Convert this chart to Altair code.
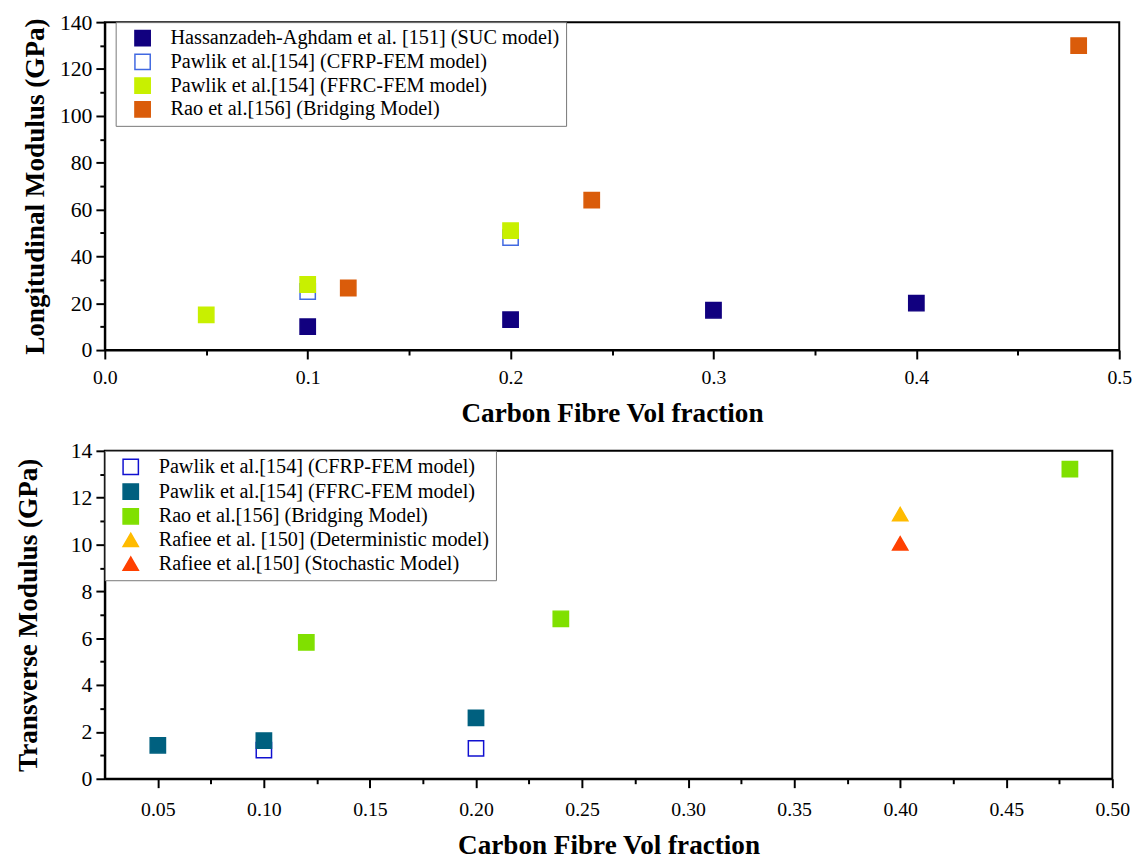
import altair as alt
import pandas as pd

FONT = "Liberation Serif"

# ---------------- Top panel data ----------------
top_series = [
    "Hassanzadeh-Aghdam et al. [151] (SUC model)",
    "Pawlik et al.[154] (CFRP-FEM model)",
    "Pawlik et al.[154] (FFRC-FEM model)",
    "Rao et al.[156] (Bridging Model)",
]
top_fill = ["#11007F", "white", "#C8F000", "#DA5C0A"]
top_stroke = ["#11007F", "#4169E1", "#C8F000", "#DA5C0A"]
top_shape = ["square", "square", "square", "square"]
top_size = [240, 240, 240, 240]

suc_x = [0.1, 0.2, 0.3, 0.4]
suc_y = [10, 13, 17, 20]
cfrp_top_x = [0.1, 0.2]
cfrp_top_y = [25, 48]
ffrc_top_x = [0.05, 0.1, 0.2]
ffrc_top_y = [15, 28, 51]
rao_top_x = [0.12, 0.24, 0.48]
rao_top_y = [26.5, 64, 130]

# ---------------- Bottom panel data ----------------
bot_series = [
    "Pawlik et al.[154] (CFRP-FEM model)",
    "Pawlik et al.[154] (FFRC-FEM model)",
    "Rao et al.[156] (Bridging Model)",
    "Rafiee et al. [150] (Deterministic model)",
    "Rafiee et al.[150] (Stochastic Model)",
]
bot_fill = ["white", "#00607F", "#80E000", "#FFBB00", "#FF4000"]
bot_stroke = ["#1010D0", "#00607F", "#80E000", "#FFBB00", "#FF4000"]
bot_shape = ["square", "square", "square", "triangle-up", "triangle-up"]
bot_size = [240, 240, 240, 440, 440]

cfrp_bot_x = [0.1, 0.2]
cfrp_bot_y = [1.22, 1.3]
ffrc_bot_x = [0.05, 0.1, 0.2]
ffrc_bot_y = [1.43, 1.63, 2.6]
rao_bot_x = [0.12, 0.24, 0.48]
rao_bot_y = [5.82, 6.83, 13.22]
det_x = [0.4]
det_y = [11.3]
sto_x = [0.4]
sto_y = [10.05]


def rows(name, xs, ys):
    return [{"series": name, "x": a, "y": b} for a, b in zip(xs, ys)]


top_df = pd.DataFrame(
    rows(top_series[1], cfrp_top_x, cfrp_top_y)
    + rows(top_series[0], suc_x, suc_y)
    + rows(top_series[2], ffrc_top_x, ffrc_top_y)
    + rows(top_series[3], rao_top_x, rao_top_y)
)
bot_df = pd.DataFrame(
    rows(bot_series[0], cfrp_bot_x, cfrp_bot_y)
    + rows(bot_series[1], ffrc_bot_x, ffrc_bot_y)
    + rows(bot_series[2], rao_bot_x, rao_bot_y)
    + rows(bot_series[3], det_x, det_y)
    + rows(bot_series[4], sto_x, sto_y)
)


def legend(x, y, sym_offset, label_offset, row_pad):
    return alt.Legend(
        title=None,
        orient="none",
        legendX=x,
        legendY=y,
        strokeColor="#777777",
        fillColor="white",
        padding=6,
        labelFont=FONT,
        labelFontSize=20.5,
        labelColor="black",
        labelLimit=600,
        labelOffset=label_offset,
        symbolOffset=sym_offset,
        rowPadding=row_pad,
        symbolStrokeWidth=1.5,
    )


def axis_common(**kw):
    base = dict(
        domainColor="black",
        domainWidth=2,
        tickColor="black",
        tickWidth=2,
        labelColor="black",
        labelFont=FONT,
        titleFont=FONT,
        titleFontSize=27.5,
        titleFontWeight="bold",
        titleColor="black",
        grid=False,
        labelFlush=False,
        labelOverlap=False,
    )
    base.update(kw)
    return alt.Axis(**base)


def panel(df, series, fill, stroke, shape, size, xdom, ydom, xaxis, yaxis, leg, w, h):
    return (
        alt.Chart(df)
        .mark_point(filled=False, opacity=1, strokeWidth=1.5)
        .encode(
            x=alt.X("x:Q", scale=alt.Scale(domain=xdom, nice=False, zero=False), axis=xaxis),
            y=alt.Y("y:Q", scale=alt.Scale(domain=ydom, nice=False), axis=yaxis),
            fill=alt.Fill("series:N", scale=alt.Scale(domain=series, range=fill), legend=leg),
            stroke=alt.Stroke("series:N", scale=alt.Scale(domain=series, range=stroke), legend=leg),
            shape=alt.Shape("series:N", scale=alt.Scale(domain=series, range=shape), legend=leg),
            size=alt.Size("series:N", scale=alt.Scale(domain=series, range=size), legend=leg),
        )
        .properties(width=w, height=h)
    )


top_x_vals = [round(i * 0.05, 3) for i in range(0, 11)]
top_y_vals = list(range(0, 141, 10))
bot_x_vals = [round(0.025 * i, 3) for i in range(2, 21)]
bot_y_vals = list(range(0, 15))

top = panel(
    top_df, top_series, top_fill, top_stroke, top_shape, top_size,
    [0, 0.5], [0, 140],
    axis_common(
        title="Carbon Fibre Vol fraction",
        values=top_x_vals,
        labelExpr="round(datum.value*20) % 2 == 0 ? format(datum.value, '.1f') : ''",
        tickSize={"condition": {"test": "round(datum.value*20) % 2 != 0", "value": 5}, "value": 9},
        labelFontSize=20,
        labelPadding=9,
        titlePadding=12,
    ),
    axis_common(
        title="Longitudinal Modulus (GPa)",
        values=top_y_vals,
        labelExpr="round(datum.value) % 20 == 0 ? datum.label : ''",
        tickSize={"condition": {"test": "round(datum.value) % 20 != 0", "value": 5}, "value": 9},
        labelFontSize=22,
        labelPadding=4,
        titlePadding=10.5,
    ),
    legend(11, 0, 11, 18, 2),
    1027, 332,
)

bot = panel(
    bot_df, bot_series, bot_fill, bot_stroke, bot_shape, bot_size,
    [0.025, 0.5], [0, 14],
    axis_common(
        title="Carbon Fibre Vol fraction",
        values=bot_x_vals,
        labelExpr="round(datum.value*40) % 2 == 0 ? format(datum.value, '.2f') : ''",
        tickSize={"condition": {"test": "round(datum.value*40) % 2 != 0", "value": 5}, "value": 9},
        labelFontSize=20,
        labelPadding=12,
        titlePadding=13,
    ),
    axis_common(
        title="Transverse Modulus (GPa)",
        values=bot_y_vals,
        labelExpr="round(datum.value) % 2 == 0 ? datum.label : ''",
        tickSize={"condition": {"test": "round(datum.value) % 2 != 0", "value": 5}, "value": 9},
        labelFontSize=22,
        labelPadding=4,
        titlePadding=28.5,
    ),
    legend(0, 0, 10, 18, 3),
    1020, 332,
)

chart = (
    alt.concat(top, bot, columns=1, spacing=11, align="none")
    .resolve_scale(fill="independent", stroke="independent", shape="independent", size="independent",
                   x="independent", y="independent")
    .configure_view(stroke="black", strokeWidth=2)
    .properties(padding={"left": 5, "top": -3, "right": 5, "bottom": 0}, background="white")
)

chart.save("out.html", embed_options={"renderer": "svg", "actions": False})
